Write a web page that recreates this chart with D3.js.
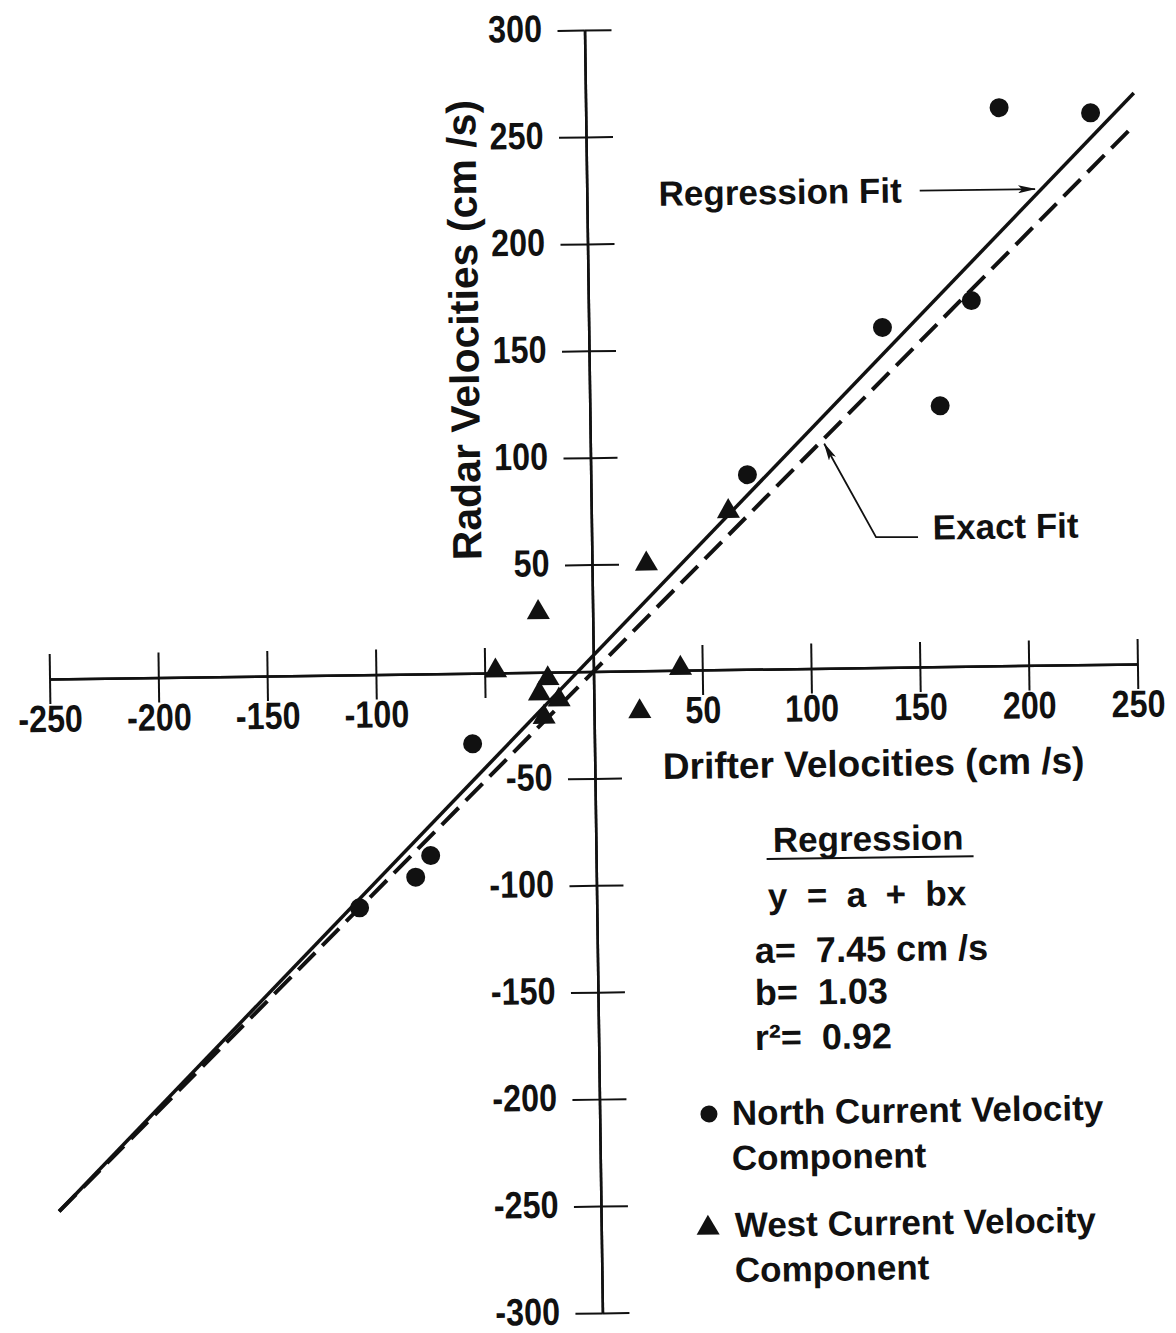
<!DOCTYPE html>
<html>
<head>
<meta charset="utf-8">
<script src="https://cdn.jsdelivr.net/npm/d3@7"></script>
<style>
  body { margin: 0; background: #fff; }
  svg text { font-family: "Liberation Sans", Arial, sans-serif; font-weight: bold; fill: #111; }
</style>
</head>
<body>
<svg id="chart" width="1176" height="1333"></svg>
<script>
// drifter velocity (x) vs radar velocity (y), cm/s
const northX = [190, 232, 176, 135, 161, 72, -56, -76, -83, -109];
const northY = [261, 258, 171, 159, 122, 91, -33, -85, -95, -109];
const westX = [25, -25, -45, 40, 21, 63, -21, -25, -16, -23];
const westY = [50, 28, 1, 1, -19, 74, -3, -10, -13, -21];

// regression printed on the chart
const regA = 7.45, regB = 1.03, regR2 = 0.92;
const fitXRange = [-249, 252];

const xTicks = [-250, -200, -150, -100, -50, 50, 100, 150, 200, 250];
const xTickLabels = ["-250", "-200", "-150", "-100", "", "50", "100", "150", "200", "250"];
const yTicks = [300, 250, 200, 150, 100, 50, -50, -100, -150, -200, -250, -300];
const yTickLabels = ["300", "250", "200", "150", "100", "50", "-50", "-100", "-150", "-200", "-250", "-300"];

const svg = d3.select("#chart");
const ox = 593.5, oy = 673;

const x = d3.scaleLinear().domain([-250, 250]).range([ox - 544, ox + 544]);
const y = d3.scaleLinear().domain([-300, 300]).range([oy + 640, oy - 643]);

// the scan is turned a little, so the whole drawing is too
const g = svg.append("g").attr("transform", `rotate(-0.8, ${ox}, ${oy})`);

svg.append("defs").append("marker")
  .attr("id", "arrow")
  .attr("viewBox", "0 0 18 8")
  .attr("refX", 17).attr("refY", 4)
  .attr("markerWidth", 18).attr("markerHeight", 8)
  .attr("markerUnits", "userSpaceOnUse")
  .attr("orient", "auto")
  .append("path").attr("d", "M0,0 L18,4 L0,8 L4,4 z").attr("fill", "#111");

// axes: ticks cross the line on both sides
const xLab = new Map(xTicks.map((v, i) => [v, xTickLabels[i]]));
const yLab = new Map(yTicks.map((v, i) => [v, yTickLabels[i]]));
const squeeze = 0.85; // condensed tick figures

const xg = g.append("g").attr("transform", `translate(0,${y(0)})`);
xg.append("g").call(d3.axisBottom(x).tickValues(xTicks).tickSize(25).tickSizeOuter(0)
  .tickPadding(1).tickFormat(d => xLab.get(d)));
xg.append("g").call(d3.axisTop(x).tickValues(xTicks).tickSize(25).tickSizeOuter(0).tickFormat(""));

const yg = g.append("g").attr("transform", `translate(${x(0)},0)`);
yg.append("g").call(d3.axisLeft(y).tickValues(yTicks).tickSize(27).tickSizeOuter(0)
  .tickPadding(23).tickFormat(d => yLab.get(d)));
yg.append("g").call(d3.axisRight(y).tickValues(yTicks).tickSize(27).tickSizeOuter(0).tickFormat(""));

g.selectAll(".domain").attr("stroke", "#111").attr("stroke-width", 2.5);
g.selectAll(".tick line").attr("stroke", "#111").attr("stroke-width", 2);
g.selectAll(".tick text")
  .style("font-size", "38px")
  .attr("transform", `scale(${squeeze},1)`);
yg.selectAll(".tick text").attr("dy", "0.28em");

// fit lines
const line = d3.line().x(d => x(d[0])).y(d => y(d[1]));
const exactPts = fitXRange.map(v => [v, v]);
const regPts = fitXRange.map(v => [v, regA + regB * v]);

g.append("path").attr("d", line(exactPts))
  .attr("fill", "none").attr("stroke", "#111").attr("stroke-width", 4)
  .attr("stroke-dasharray", "24,10");
g.append("path").attr("d", line(regPts))
  .attr("fill", "none").attr("stroke", "#111").attr("stroke-width", 3.5);

// points
g.append("g").selectAll("circle")
  .data(d3.zip(northX, northY))
  .join("circle")
  .attr("cx", d => x(d[0]))
  .attr("cy", d => y(d[1]))
  .attr("r", 9.5)
  .attr("fill", "#111");

const tri = d3.symbol().type(d3.symbolTriangle).size(230);
g.append("g").selectAll("path")
  .data(d3.zip(westX, westY))
  .join("path")
  .attr("d", tri)
  .attr("transform", d => `translate(${x(d[0])},${y(d[1])})`)
  .attr("fill", "#111");

// annotations
g.append("text").attr("x", x(33)).attr("y", y(217.3))
  .style("font-size", "35px").text("Regression Fit");
g.append("line")
  .attr("x1", x(153)).attr("y1", y(222.7))
  .attr("x2", x(206)).attr("y2", y(222.7))
  .attr("stroke", "#111").attr("stroke-width", 1.8)
  .attr("marker-end", "url(#arrow)");

g.append("text").attr("x", x(156.8)).attr("y", y(59.5))
  .style("font-size", "35px").text("Exact Fit");
g.append("path")
  .attr("d", line([[150, 60.7], [130.7, 61], [107.5, 105]]))
  .attr("fill", "none").attr("stroke", "#111").attr("stroke-width", 1.8)
  .attr("marker-end", "url(#arrow)");

// axis titles
g.append("text").attr("x", 661.6).attr("y", 780)
  .style("font-size", "37px").text("Drifter Velocities (cm /s)");
g.append("text").attr("transform", "translate(483,328.4) rotate(-90)")
  .attr("text-anchor", "middle")
  .style("font-size", "41px").text("Radar Velocities (cm /s)");

// regression box
const box = g.append("g");
box.append("text").attr("x", 770.5).attr("y", 854.5).style("font-size", "35px").text("Regression");
box.append("line").attr("x1", 764).attr("x2", 971).attr("y1", 861.5).attr("y2", 861.5)
  .attr("stroke", "#111").attr("stroke-width", 2);
box.append("text").attr("x", 764.7).attr("y", 910.4).style("font-size", "35px")
  .style("white-space", "pre").text("y  =  a  +  bx");
box.append("text").attr("x", 751).attr("y", 965.3).style("font-size", "36px")
  .style("white-space", "pre").text(`a=  ${regA.toFixed(2)} cm /s`);
box.append("text").attr("x", 750.4).attr("y", 1007.3).style("font-size", "36px")
  .style("white-space", "pre").text(`b=  ${regB.toFixed(2)}`);
box.append("text").attr("x", 749.7).attr("y", 1052.3).style("font-size", "36px")
  .style("white-space", "pre").text(`r\u00b2=  ${regR2.toFixed(2)}`);

// legend
const leg = g.append("g");
leg.append("circle").attr("cx", 702.8).attr("cy", 1115.6).attr("r", 8.5).attr("fill", "#111");
leg.append("text").attr("x", 725.7).attr("y", 1126.9).style("font-size", "35px").text("North Current Velocity");
leg.append("text").attr("x", 725.1).attr("y", 1171.9).style("font-size", "35px").text("Component");
leg.append("path").attr("d", tri).attr("transform", "translate(700.3,1229.6)").attr("fill", "#111");
leg.append("text").attr("x", 727.1).attr("y", 1239).style("font-size", "35px").text("West Current Velocity");
leg.append("text").attr("x", 726.5).attr("y", 1284).style("font-size", "35px").text("Component");
</script>
</body>
</html>
